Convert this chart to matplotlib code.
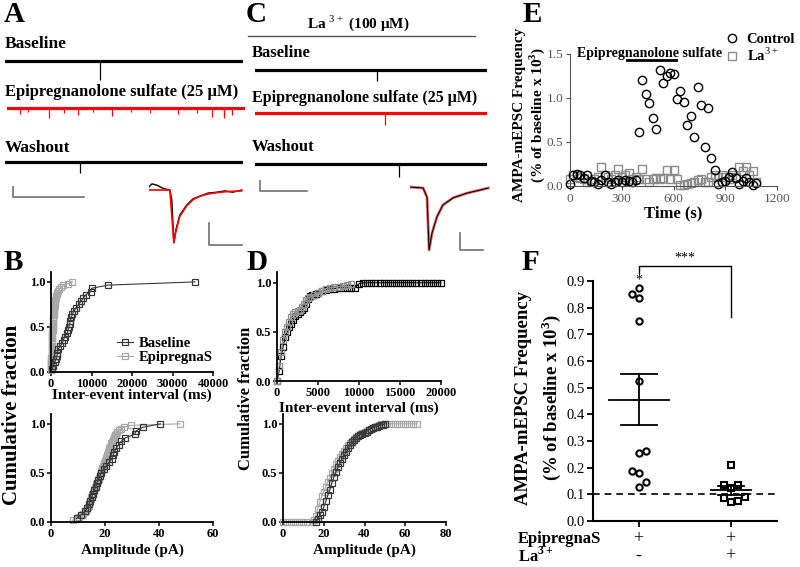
import numpy as np
import matplotlib
matplotlib.use("Agg")
import matplotlib.pyplot as plt

plt.rcParams["font.family"] = ["Liberation Serif", "DejaVu Serif"]
plt.rcParams["mathtext.fontset"] = "custom"
plt.rcParams["mathtext.rm"] = "Liberation Serif"
plt.rcParams["mathtext.bf"] = "Liberation Serif:bold"

W, H = 800, 567

# ---------------- data ----------------
# example sweeps (A, C): event time (s), amplitude (pA)
TRACE_SEC = 10
A_BASE_EVENTS = [(4.0, 38)]
A_DRUG_EVENTS = [(0.55, 12), (0.9, 8), (1.75, 20), (2.4, 9), (3.0, 14), (3.6, 8), (4.4, 16),
                 (5.2, 8), (6.0, 10), (7.2, 12), (8.0, 9), (8.6, 18), (9.1, 20), (9.45, 14)]
A_WASH_EVENTS = [(3.15, 22)]
C_BASE_EVENTS = [(5.26, 22)]
C_DRUG_EVENTS = [(5.6, 24)]
C_WASH_EVENTS = [(6.2, 26)]

# averaged mEPSC (ms, pA)
A_AVG_T = [0, 0.9, 2.4, 3.9, 5.1, 6.3, 6.9, 7.5, 8.1, 9.3, 11.4, 13.3, 15.4, 17.8, 20.5, 22.9, 25.3, 28]
A_AVG_V = [0.7, 1.4, 1.1, 0.5, 0.2, 0, -2.3, -12, -9.1, -5.7, -3.4, -2, -1.4, -0.7, -0.5, -0.2, -0.5, 0]
A_FIT_T = [0, 6.3, 7.5, 8.1, 9.3, 11.4, 13.3, 15.4, 17.8, 20.5, 23, 28]
A_FIT_V = [0, 0, -12, -9.5, -6, -3.6, -2.2, -1.4, -0.9, -0.6, -0.4, -0.2]
C_AVG_T = [0, 5.7, 7.4, 8.3, 9.6, 11.7, 14.3, 18.7, 24.8, 30.4, 34]
C_AVG_V = [0, -0.3, -3, -18.5, -13.5, -8.8, -5.3, -3.2, -1.8, -0.9, -0.3]

# B: cumulative distributions (raw sorted values)
B_IEI_BASE = [300, 600, 900, 1300, 1500, 1600, 1700, 2300, 2800, 3100, 3400, 4000, 4200, 4400,
              4600, 4800, 5000, 5300, 5700, 6200, 6800, 7400, 8000, 8600, 9800, 10000, 14000, 35500]
B_IEI_DRUG = [20, 35, 50, 60, 75, 90, 100, 115, 130, 140, 155, 170, 185, 200, 215, 230, 250, 265,
              280, 300, 320, 340, 360, 380, 400, 430, 470, 500, 540, 570, 610, 650, 690, 720, 760,
              800, 860, 920, 980, 1040, 1100, 1170, 1240, 1400, 1600, 1850, 2070, 2500, 2900,
              4200, 5300]
B_AMP_BASE = [9.5, 11, 12.5, 13.5, 14, 14.5, 15, 15.5, 16, 16.5, 17, 17.5, 18, 18.5, 19.5, 20.5,
              21.5, 22.5, 23, 23.5, 24, 25, 26, 27.5, 31, 31.5, 34, 40.5]
B_AMP_DRUG = [8, 9.5, 10.5, 11.5, 12, 12.5, 13, 13.3, 13.6, 13.9, 14.1, 14.3, 14.5, 14.7, 14.9,
              15.1, 15.3, 15.6, 15.8, 16.1, 16.3, 16.6, 16.8, 17.1, 17.3, 17.6, 17.8, 18.0, 18.2,
              18.4, 18.6, 18.8, 19.0, 19.3, 19.5, 19.7, 20.0, 20.2, 20.4, 20.6, 20.8, 21.0, 21.2,
              21.4, 21.6, 21.9, 22.1, 22.4, 22.7, 23.0, 23.2, 23.5, 23.8, 24.0, 24.5, 25.2, 26.0,
              27.0, 29.5, 47.8]

# D: binned cumulative distributions (bin, fraction)
D_IEI_BASE_X = [0, 250, 500, 750, 1000, 1250, 1500, 1750, 2000, 2250, 2500, 2750, 3000, 3250,
                3500, 3750, 4000, 4250, 4500, 4750, 5000, 5500, 6000, 6500, 7000, 7500, 8000,
                8500, 9000, 9500, 10000, 10500, 11000, 11500, 12000, 12500, 13000, 13500, 14000,
                14500, 15000, 15500, 16000, 16500, 17000, 17500, 18000, 18500, 19000, 19500, 20000]
D_IEI_BASE_Y = [0.0, 0.1, 0.25, 0.35, 0.45, 0.5, 0.55, 0.58, 0.62, 0.66, 0.68, 0.7, 0.72, 0.74,
                0.78, 0.84, 0.87, 0.88, 0.88, 0.89, 0.9, 0.92, 0.93, 0.94, 0.94, 0.95, 0.95,
                0.95, 0.95, 0.95, 0.99, 1.0, 1.0, 1.0, 1.0, 1.0, 1.0, 1.0, 1.0,
                1.0, 1.0, 1.0, 1.0, 1.0, 1.0, 1.0, 1.0, 1.0, 1.0, 1.0, 1.0]
D_IEI_DRUG_X = [0, 250, 500, 750, 1000, 1250, 1500, 1750, 2000, 2250, 2500, 2750, 3000, 3250,
                3500, 3750, 4000, 4500, 5000, 5500, 6000, 6500, 7000, 7500, 8000, 8500, 9000]
D_IEI_DRUG_Y = [0.0, 0.15, 0.3, 0.42, 0.5, 0.55, 0.6, 0.65, 0.68, 0.7, 0.71, 0.72, 0.75, 0.78,
                0.82, 0.85, 0.86, 0.88, 0.9, 0.92, 0.94, 0.95, 0.96, 0.96, 0.97, 0.98, 0.99]
D_AMP_BASE_X = [16, 17, 18, 19, 20, 21, 22, 23, 24, 25, 26, 27, 28, 29, 30, 31, 32, 33, 34, 35,
                36, 37, 38, 39, 40, 41, 42, 43, 44, 45, 46, 47, 48, 49, 50]
D_AMP_BASE_Y = [0.0, 0.03, 0.07, 0.1, 0.15, 0.21, 0.27, 0.33, 0.4, 0.46, 0.51, 0.56, 0.6, 0.64,
                0.68, 0.71, 0.75, 0.78, 0.81, 0.84, 0.86, 0.88, 0.89, 0.9, 0.91, 0.92, 0.94,
                0.95, 0.96, 0.97, 0.97, 0.98, 0.99, 0.99, 1.0]
D_AMP_DRUG_X = [0, 2, 4, 6, 8, 10, 12, 14, 15, 16, 17, 18, 19, 20, 21, 22, 23, 24, 25, 26, 27,
                28, 29, 30, 31, 32, 33, 34, 35, 36, 37, 38, 39, 40, 41, 42, 43, 44, 45, 46, 47,
                48, 50, 52, 54, 56, 58, 60, 62, 64, 66]
D_AMP_DRUG_Y = [0, 0, 0, 0, 0, 0, 0, 0, 0.02, 0.06, 0.13, 0.2, 0.26, 0.31, 0.36, 0.41, 0.45,
                0.5, 0.54, 0.59, 0.62, 0.66, 0.69, 0.72, 0.75, 0.78, 0.8, 0.83, 0.85, 0.87, 0.88,
                0.9, 0.91, 0.92, 0.93, 0.94, 0.95, 0.96, 0.97, 0.98, 0.99, 1.0, 1.0, 1.0, 1.0,
                1.0, 1.0, 1.0, 1.0, 1.0, 1.0]

# E: time course (s, frequency)
E_CTRL_T = [0, 20, 40, 60, 80, 100, 120, 140, 160, 180, 200, 220, 240, 260, 280, 300, 320, 340,
            360, 380, 400, 420, 440, 460, 480, 500, 520, 540, 560, 580, 600, 620, 640, 660, 680,
            700, 720, 740, 760, 780, 800, 820, 840, 860, 880, 900, 920, 940, 960, 980, 1000,
            1020, 1040, 1060, 1080]
E_CTRL_F = [0.02, 0.13, 0.14, 0.12, 0.09, 0.13, 0.06, 0.04, 0.02, 0.07, 0.13, 0.05, 0.02, 0.05,
            0.07, 0.04, 0.07, 0.06, 0.04, 0.07, 0.61, 1.20, 1.04, 0.94, 0.77, 0.65, 1.32, 1.17,
            1.25, 1.28, 1.27, 0.99, 1.08, 0.96, 0.69, 0.80, 0.56, 1.13, 0.92, 0.44, 0.89, 0.32,
            0.18, 0.02, 0.05, 0.06, 0.10, 0.16, 0.09, 0.02, 0.06, 0.09, 0.05, 0.01, 0.03]
E_LA_T = [0, 20, 40, 60, 80, 100, 120, 140, 160, 180, 200, 220, 240, 260, 280, 300, 320, 340,
          360, 380, 400, 420, 440, 460, 480, 500, 520, 540, 560, 580, 600, 620, 640, 660, 680,
          700, 720, 740, 760, 780, 800, 820, 840, 860, 880, 900, 920, 940, 960, 980, 1000, 1020,
          1040, 1060, 1080]
E_LA_F = [0.08, 0.12, 0.10, 0.09, 0.08, 0.05, 0.06, 0.08, 0.10, 0.22, 0.12, 0.10, 0.08, 0.12,
          0.19, 0.10, 0.13, 0.15, 0.08, 0.10, 0.08, 0.19, 0.08, 0.05, 0.08, 0.09, 0.08, 0.09,
          0.18, 0.08, 0.18, 0.08, 0.01, 0.01, 0.02, 0.03, 0.05, 0.07, 0.08, 0.05, 0.05, 0.10,
          0.13, 0.10, 0.13, 0.10, 0.08, 0.13, 0.10, 0.22, 0.17, 0.22, 0.13, 0.17, 0.05]
DRUG_ON = (330, 615)

# F: normalised frequency per cell
F_DRUG = [0.85, 0.875, 0.838, 0.75, 0.525, 0.254, 0.262, 0.1875, 0.181, 0.146, 0.128]
F_DRUG_LA = [0.209, 0.135, 0.1225, 0.136, 0.086, 0.071, 0.075, 0.089]
F_BASELINE = 0.1

# ---------------- figure ----------------
fig = plt.figure(figsize=(8, 5.67), dpi=100)


def px_ax(x0, y0, x1, y1):
    ax = fig.add_axes([x0 / W, 1 - y1 / H, (x1 - x0) / W, (y1 - y0) / H])
    ax.patch.set_alpha(0)
    return ax


PA_PER_PX = 2.0
SCALE_GRAY = "#707070"


def trace_row(x0, x1, yc, top, bot, events, color):
    ax = px_ax(x0, top, x1, bot)
    ax.set_xlim(0, TRACE_SEC)
    ax.set_ylim(-(bot - yc) * PA_PER_PX, (yc - top) * PA_PER_PX)
    ax.axis("off")
    ax.axhline(0, color=color, lw=2.3)
    t = [e[0] for e in events]
    a = [-e[1] for e in events]
    ax.vlines(t, a, 0, color=color, lw=0.9)
    return ax


# panel A sweeps
trace_row(5, 243, 61, 50, 90, A_BASE_EVENTS, "black")
trace_row(7, 245, 108, 95, 130, A_DRUG_EVENTS, "#ff0000")
wa = trace_row(5, 243, 162, 140, 200, A_WASH_EVENTS, "black")
wa.plot([0.34, 0.34, 3.34], [-50, -70, -70], color=SCALE_GRAY, lw=1.2, clip_on=False)

# panel C sweeps
trace_row(255, 487, 70, 58, 95, C_BASE_EVENTS, "black")
trace_row(255, 487, 113, 102, 135, C_DRUG_EVENTS, "#ff0000")
wc = trace_row(255, 487, 164, 140, 200, C_WASH_EVENTS, "black")
wc.plot([0.22, 0.22, 2.22], [-34, -54, -54], color=SCALE_GRAY, lw=1.2, clip_on=False)

# insets
ia = px_ax(149, 180, 245, 250)
ia.set_xlim(0, 29)
ia.set_ylim(-60 / 4.4, 10 / 4.4)
ia.axis("off")
ia.plot(A_AVG_T, A_AVG_V, color="black", lw=1)
ia.plot(A_FIT_T, A_FIT_V, color="#ff0000", lw=1.2)
ia.plot([18.1, 18.1, 28.1], [-7.5, -12.5, -12.5], color=SCALE_GRAY, lw=1.2, clip_on=False)

ic = px_ax(410, 180, 490, 255)
ic.set_xlim(0, 80 / 2.3)
ic.set_ylim(-68 / 3.4, 7 / 3.4)
ic.axis("off")
ic.plot(C_AVG_T, C_AVG_V, color="#e06060", lw=2)
ic.plot(C_AVG_T, C_AVG_V, color="black", lw=0.7)
ic.plot([21.7, 21.7, 31.7], [-13.5, -18.5, -18.5], color=SCALE_GRAY, lw=1.2, clip_on=False)


def style_cum(ax, xmax, xticks, ytop):
    ax.set_xlim(0, xmax)
    ax.set_ylim(0, ytop)
    ax.set_xticks(xticks)
    ax.set_yticks([0, 0.5, 1.0])
    ax.set_yticklabels(["0.0", "0.5", "1.0"])
    for s in ["top", "right"]:
        ax.spines[s].set_visible(False)
    for s in ["left", "bottom"]:
        ax.spines[s].set_linewidth(1.3)
    ax.tick_params(direction="out", length=3, width=1.1, pad=1, labelsize=9)
    for lab in ax.get_xticklabels() + ax.get_yticklabels():
        lab.set_fontweight("bold")


def ecdf(vals):
    v = np.sort(vals)
    return v, np.arange(1, len(v) + 1) / len(v)


DARK = "#3a3a3a"
LIGHT = "#a8a8a8"
sq = dict(marker="s", mfc="none", ms=5, mew=0.9, lw=0.8, clip_on=False)

# B top
bt = px_ax(51, 272, 213, 372)
x, y = ecdf(B_IEI_DRUG)
bt.plot(x, y, color=LIGHT, label="EpipregnaS", **sq)
x, y = ecdf(B_IEI_BASE)
bt.plot(x, y, color=DARK, label="Baseline", **sq)
style_cum(bt, 40000, [0, 10000, 20000, 30000, 40000], 1.11)
bt.set_xlabel("Inter-event interval (ms)", fontweight="bold", fontsize=11, labelpad=-1)
h, l = bt.get_legend_handles_labels()
bt.legend(h[::-1], l[::-1], loc="lower right", bbox_to_anchor=(1.0, 0.08), frameon=False,
          handlelength=1.1, handletextpad=0.4, labelspacing=0.05, borderaxespad=0,
          borderpad=0, prop=dict(weight="bold", size=10.5))

# B bottom
bb = px_ax(51, 414, 213, 522)
x, y = ecdf(B_AMP_DRUG)
bb.plot(x, y, color=LIGHT, **sq)
x, y = ecdf(B_AMP_BASE)
bb.plot(x, y, color=DARK, **sq)
style_cum(bb, 60, [0, 20, 40, 60], 1.1)
bb.set_xlabel("Amplitude (pA)", fontweight="bold", fontsize=11, labelpad=3)

# D top
dt = px_ax(277, 272, 441, 381)
dt.plot(D_IEI_BASE_X, D_IEI_BASE_Y, color="black", **sq)
dt.plot(D_IEI_DRUG_X, D_IEI_DRUG_Y, color="#909090", **sq)
style_cum(dt, 20000, [0, 5000, 10000, 15000, 20000], 1.11)
dt.set_xlabel("Inter-event interval (ms)", fontweight="bold", fontsize=11, labelpad=2)

# D bottom
db = px_ax(283, 414, 446, 522)
db.plot(D_AMP_DRUG_X, D_AMP_DRUG_Y, color=LIGHT, **sq)
db.plot(D_AMP_BASE_X, D_AMP_BASE_Y, color=DARK, **sq)
style_cum(db, 80, [0, 20, 40, 60, 80], 1.1)
db.set_xlabel("Amplitude (pA)", fontweight="bold", fontsize=11, labelpad=3)

# E
ea = px_ax(570, 54, 777, 186)
ea.plot(E_LA_T, E_LA_F, ls="none", marker="s", ms=5.5, mfc="none", mec="#8c8c8c", mew=1,
        clip_on=False, label="La$^{3+}$")
ea.plot(E_CTRL_T, E_CTRL_F, ls="none", marker="o", ms=6, mfc="none", mec="black", mew=1,
        clip_on=False, label="Control")
ea.set_xlim(0, 1200)
ea.set_ylim(0, 1.5)
ea.set_xticks([0, 300, 600, 900, 1200])
ea.set_yticks([0, 0.5, 1.0, 1.5])
ea.set_yticklabels(["0.0", "0.5", "1.0", "1.5"])
for s in ["top", "right"]:
    ea.spines[s].set_visible(False)
for s in ["left", "bottom"]:
    ea.spines[s].set_color("#555555")
ea.tick_params(direction="out", length=3, colors="#555555", labelsize=9.5, pad=2)
ea.set_xlabel("Time (s)", fontweight="bold", fontsize=12, labelpad=0)
ea.plot(DRUG_ON, [1.43, 1.43], color="black", lw=2, clip_on=False)
ea.text(np.mean(DRUG_ON) - 10, 1.51, "Epipregnanolone sulfate", ha="center", va="center",
        fontweight="bold", fontsize=10)
h, l = ea.get_legend_handles_labels()
ea.legend(h[::-1], l[::-1], loc="upper left", bbox_to_anchor=(0.755, 1.16), frameon=False,
          handlelength=0.8, handletextpad=0.6, labelspacing=0.05, borderaxespad=0,
          borderpad=0, prop=dict(weight="bold", size=10.5))

# F
fa = px_ax(593, 281, 777, 521)
JIT = 0.078
F_DRUG_POS = [-1, 0, 0, 0, 0, 0, 1, -1, 0, 1, 0]
F_LA_POS = [0, -1, 0, 1, -1, 0, 1, 2]
fa.plot([1 + JIT * p for p in F_DRUG_POS], F_DRUG, ls="none", marker="o", ms=4.5, mfc="none",
        mec="black", mew=1.5, clip_on=False)
fa.plot([2 + JIT * p for p in F_LA_POS], F_DRUG_LA, ls="none", marker="s", ms=4.5, mfc="none",
        mec="black", mew=1.5, clip_on=False)
for xc, vals, hw, cw in [(1, F_DRUG, 0.33, 0.2), (2, F_DRUG_LA, 0.22, 0.14)]:
    m = np.mean(vals)
    se = np.std(vals, ddof=1) / np.sqrt(len(vals))
    fa.plot([xc - hw, xc + hw], [m, m], color="black", lw=1.3)
    fa.plot([xc, xc], [m - se, m + se], color="black", lw=1.3)
    fa.plot([xc - cw, xc + cw], [m + se, m + se], color="black", lw=1.3)
    fa.plot([xc - cw, xc + cw], [m - se, m - se], color="black", lw=1.3)
fa.axhline(F_BASELINE, color="black", ls="--", lw=1.2, dashes=(4, 3))
fa.set_xlim(0.5, 2.5)
fa.set_ylim(0, 0.9)
fa.set_xticks([1, 2])
fa.set_xticklabels([])
fa.set_yticks(np.arange(0, 0.91, 0.1))
fa.set_yticklabels(["0.0", "0.1", "0.2", "0.3", "0.4", "0.5", "0.6", "0.7", "0.8", "0.9"])
for s in ["top", "right"]:
    fa.spines[s].set_visible(False)
for s in ["left", "bottom"]:
    fa.spines[s].set_linewidth(1.5)
fa.tick_params(direction="out", length=4, width=1.3, labelsize=10.5, pad=2)
fa.plot([1, 1, 2, 2], [0.93, 0.955, 0.955, 0.765], color="black", lw=1, clip_on=False)
fa.text(1.5, 0.96, "***", ha="center", va="bottom", fontsize=10)
fa.text(1, 0.905, "*", ha="center", va="center", fontsize=10)

# ---------------- text overlay ----------------
ov = fig.add_axes([0, 0, 1, 1], zorder=10)
ov.set_xlim(0, W)
ov.set_ylim(H, 0)
ov.axis("off")
ov.patch.set_alpha(0)

big = dict(fontsize=21, fontweight="bold", va="center", ha="left")
for lab, (px, py) in zip("ABCDEF", [(4, 15), (4, 262), (246, 15), (246, 262), (523, 14), (522, 262)]):
    ov.text(px, py, lab, **big)

ov.text(5, 44, "Baseline", fontsize=12.5, fontweight="bold", va="center")
ov.text(5, 92, "Epipregnanolone sulfate (25 μM)", fontsize=12, fontweight="bold", va="center")
ov.text(5, 148, "Washout", fontsize=12.5, fontweight="bold", va="center")
ov.text(252, 53, "Baseline", fontsize=12, fontweight="bold", va="center")
ov.text(252, 98, "Epipregnanolone sulfate (25 μM)", fontsize=11.5, fontweight="bold", va="center")
ov.text(252, 147, "Washout", fontsize=12, fontweight="bold", va="center")
ov.text(358, 23, "La $^{3+}$ (100 μM)", fontsize=11, fontweight="bold", ha="center", va="center")
ov.plot([248, 475], [36, 36], color="#555555", lw=1)

ov.text(12, 415, "Cumulative fraction", rotation=90, fontsize=15, fontweight="bold",
        ha="center", va="center")
ov.text(246, 398, "Cumulative fraction", rotation=90, fontsize=12, fontweight="bold",
        ha="center", va="center")

ov.text(520, 115, "AMPA-mEPSC Frequency", rotation=90, fontsize=11, fontweight="bold",
        ha="center", va="center")
ov.text(537, 115, "(% of baseline x 10$^{\\mathbf{3}}$)", rotation=90, fontsize=11,
        fontweight="bold", ha="center", va="center")
ov.text(524, 398, "AMPA-mEPSC Frequency", rotation=90, fontsize=13.5, fontweight="bold",
        ha="center", va="center")
ov.text(551, 398, "(% of baseline x 10$^{\\mathbf{3}}$)", rotation=90, fontsize=13.5,
        fontweight="bold", ha="center", va="center")

ov.text(518, 539, "EpipregnaS", fontsize=12, fontweight="bold", va="center")
ov.text(518, 556, "La$^{\\mathbf{3+}}$", fontsize=12, fontweight="bold", va="center")
for px, s1, s2 in [(638, "+", "-"), (730, "+", "+")]:
    ov.text(px, 539, s1, fontsize=13, ha="center", va="center")
    ov.text(px, 556, s2, fontsize=13, ha="center", va="center")

fig.savefig("out.png", dpi=100)
